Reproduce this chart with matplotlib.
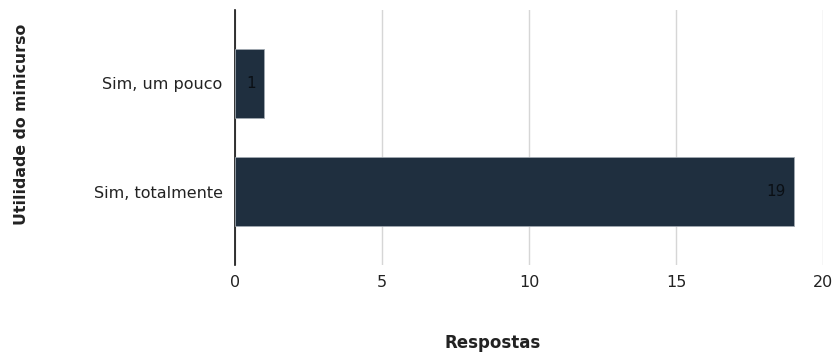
import matplotlib.pyplot as plt

plt.rcParams['font.family'] = ['DejaVu Sans']

categorias = ['Sim, um pouco', 'Sim, totalmente']
respostas = [1, 19]
ticks_x = [0, 5, 10, 15, 20]

cor_barra = '#1f2f3f'

fig = plt.figure(figsize=(8.39, 3.54), dpi=100)
ax = fig.add_axes([0.2801, 0.2514, 0.7008, 0.7203])

pos = list(range(len(categorias)))
ax.barh(pos, respostas, height=0.64, color=cor_barra, edgecolor='#a0a8b0', linewidth=0.6, zorder=3)

for p, v in zip(pos, respostas):
    ax.text(v - 0.28, p, str(v), ha='right', va='center', fontsize=11, color='#0a0f14', zorder=4)

ax.set_xlim(0, 20)
ax.set_ylim(1.68, -0.68)
ax.set_xticks(ticks_x)
ax.set_yticks(pos)
ax.set_yticklabels(categorias)
ax.tick_params(axis='both', length=0, labelsize=11.5, colors='#222222')
ax.tick_params(axis='y', pad=9)
ax.tick_params(axis='x', pad=7)

ax.grid(axis='x', color='#d6d6d6', linewidth=1, zorder=0)
for s in ['top', 'right', 'bottom']:
    ax.spines[s].set_visible(False)
ax.spines['left'].set_color('#111111')
ax.spines['left'].set_linewidth(1.2)

fig.text(493 / 839, 1 - 343 / 354, 'Respostas', ha='center', va='center', fontsize=12, fontweight='bold', color='#222222')
fig.text(22 / 839, 1 - 124 / 354, 'Utilidade do minicurso', ha='center', va='center', rotation=90, fontsize=11.3, fontweight='bold', color='#222222')

fig.savefig('out.png', dpi=100, facecolor='white')
